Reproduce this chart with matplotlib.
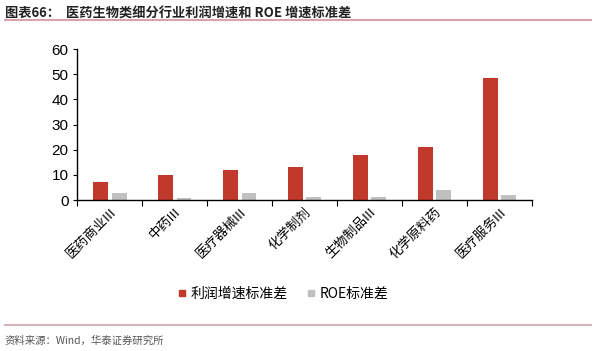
import numpy as np
import matplotlib
matplotlib.use('Agg')
import matplotlib.pyplot as plt
from matplotlib.lines import Line2D

plt.rcParams['font.family'] = ['Noto Sans CJK SC', 'DejaVu Sans']

# data
categories = ['医药商业III', '中药III', '医疗器械III', '化学制剂', '生物制品III', '化学原料药', '医疗服务III']
profit_std = [7.3, 10.0, 11.9, 13.0, 17.9, 21.0, 48.5]
roe_std = [2.7, 1.0, 3.0, 1.4, 1.2, 4.1, 2.1]
series_names = ['利润增速标准差', 'ROE标准差']

red = '#C0392B'
gray = '#C0C0C0'

fig = plt.figure(figsize=(6.0, 3.51), dpi=100)
ax = fig.add_axes([0.128, 0.430, 0.758, 0.430])

x = np.arange(len(categories))
w = 0.23
ax.bar(x - 0.135, profit_std, width=w, color=red, label=series_names[0])
ax.bar(x + 0.15, roe_std, width=w, color=gray, label=series_names[1])

ax.set_xlim(-0.5, len(categories) - 0.5)
ax.set_ylim(0, 60)
ax.set_yticks(range(0, 61, 10))
ax.set_yticklabels([str(v) for v in range(0, 61, 10)], family=['Liberation Sans', 'DejaVu Sans'])
ax.set_xticks(x)
ax.set_xticklabels(categories, rotation=45, ha='right', rotation_mode='anchor', fontsize=9.5)
ax.set_xticks(np.arange(len(categories) + 1) - 0.5, minor=True)
ax.tick_params(axis='x', which='major', length=0, pad=4)
ax.tick_params(axis='x', which='minor', length=4, direction='out', width=0.8)
ax.tick_params(axis='y', length=3, width=0.8, labelsize=11, pad=3)
for s in ['top', 'right']:
    ax.spines[s].set_visible(False)
for s in ['left', 'bottom']:
    ax.spines[s].set_linewidth(1.0)
    ax.spines[s].set_color('black')

handles = [Line2D([], [], marker='s', ls='', color=red, markersize=5),
           Line2D([], [], marker='s', ls='', color=gray, markersize=5)]
fig.legend(handles, series_names, loc='center', bbox_to_anchor=(0.47, 0.163), ncol=2,
           frameon=False, fontsize=10, handletextpad=0.1, columnspacing=1.2, handlelength=1.0)

# header and footer
fig.text(0.008, 0.962, '图表66：  医药生物类细分行业利润增速和 ROE 增速标准差', fontsize=9.5,
         fontweight='bold', va='center', ha='left', color='#222222')
fig.add_artist(Line2D([0.008, 0.985], [0.943, 0.943], color='#D9A3AC', lw=1.5))
fig.add_artist(Line2D([0.008, 0.985], [0.074, 0.074], color='#D4B4B8', lw=1.5))
fig.text(0.008, 0.030, '资料来源：Wind，华泰证券研究所', fontsize=7.5, va='center', ha='left', color='#555555')

fig.savefig('out.png', dpi=100)
